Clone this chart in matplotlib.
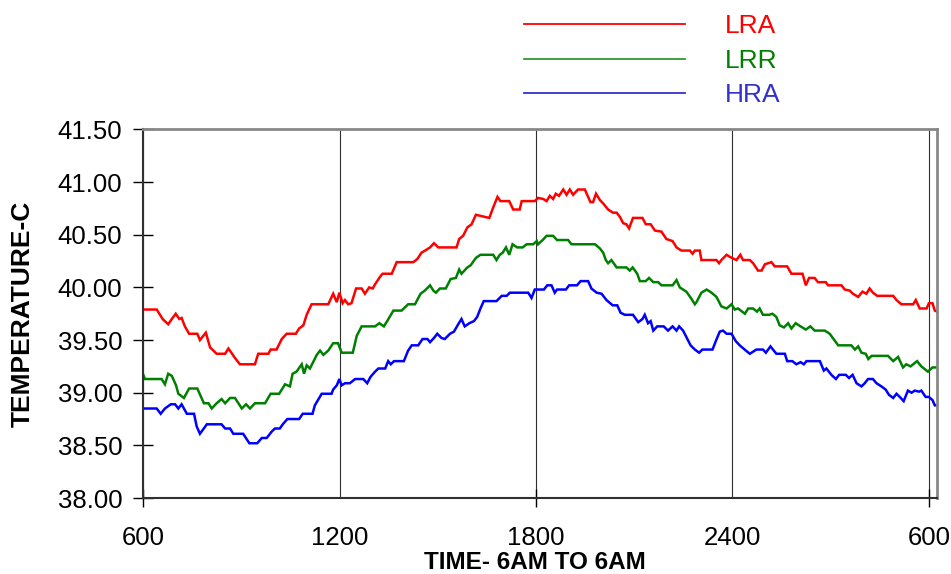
import matplotlib
matplotlib.use("Agg")
import numpy as np
from matplotlib import pyplot as plt
from matplotlib.lines import Line2D
from matplotlib.ticker import FixedLocator, FixedFormatter

plt.rcParams['font.family'] = ['Liberation Sans', 'DejaVu Sans']

# temperature readings, time in hours from midnight (6 -> 30 = 6AM to 6AM)
lra = [(6.00,39.79),(6.41,39.79),(6.59,39.70),(6.76,39.65),(6.87,39.70),(6.99,39.75),(7.10,39.70),(7.17,39.71),
       (7.27,39.63),(7.40,39.56),(7.65,39.56),(7.73,39.50),(7.91,39.57),(8.04,39.43),(8.24,39.37),(8.50,39.37),
       (8.60,39.42),(8.80,39.33),(8.95,39.27),(9.41,39.27),(9.51,39.37),(9.82,39.37),(9.89,39.41),(10.07,39.41),
       (10.23,39.51),(10.38,39.56),(10.66,39.56),(10.76,39.61),(10.89,39.64),(10.99,39.74),(11.14,39.84),(11.65,39.84),
       (11.80,39.94),(11.91,39.86),(11.99,39.95),(12.09,39.85),(12.16,39.88),(12.26,39.84),(12.36,39.85),(12.50,39.99),
       (12.67,39.99),(12.77,39.94),(12.90,40.00),(13.01,39.99),(13.08,40.03),(13.23,40.10),(13.31,40.13),(13.59,40.13),
       (13.74,40.24),(14.25,40.24),(14.37,40.27),(14.50,40.33),(14.66,40.36),(14.76,40.38),(14.88,40.42),(15.01,40.38),
       (15.57,40.38),(15.65,40.46),(15.77,40.49),(15.90,40.57),(16.03,40.60),(16.16,40.69),(16.57,40.66),(16.69,40.76),
       (16.82,40.86),(16.91,40.82),(17.18,40.82),(17.30,40.74),(17.50,40.74),(17.56,40.82),(17.96,40.82),(18.06,40.85),
       (18.22,40.84),(18.32,40.82),(18.42,40.87),(18.52,40.84),(18.60,40.89),(18.70,40.87),(18.83,40.93),(18.93,40.88),
       (19.03,40.93),(19.13,40.88),(19.28,40.93),(19.49,40.93),(19.66,40.81),(19.74,40.81),(19.83,40.89),(19.95,40.83),
       (20.07,40.79),(20.20,40.74),(20.35,40.71),(20.46,40.71),(20.56,40.67),(20.66,40.61),(20.76,40.60),(20.84,40.56),
       (20.96,40.66),(21.25,40.66),(21.35,40.60),(21.50,40.60),(21.63,40.54),(21.83,40.53),(21.98,40.46),(22.17,40.44),
       (22.29,40.38),(22.44,40.35),(22.51,40.35),(22.70,40.35),(22.78,40.32),(22.85,40.35),(23.00,40.35),(23.05,40.26),
       (23.51,40.26),(23.59,40.23),(23.66,40.26),(23.82,40.31),(23.92,40.29),(24.12,40.26),(24.24,40.31),(24.32,40.26),
       (24.53,40.26),(24.63,40.23),(24.78,40.16),(24.89,40.16),(24.99,40.22),(25.19,40.24),(25.29,40.20),(25.67,40.20),
       (25.80,40.13),(26.14,40.13),(26.24,40.02),(26.34,40.09),(26.51,40.09),(26.61,40.05),(26.85,40.05),(26.92,40.02),
       (27.33,40.02),(27.43,39.98),(27.58,39.97),(27.68,39.94),(27.84,39.91),(27.97,39.96),(28.09,39.94),(28.19,39.99),
       (28.29,39.95),(28.42,39.92),(28.91,39.92),(29.01,39.88),(29.16,39.84),(29.52,39.84),(29.60,39.88),(29.72,39.80),
       (29.93,39.80),(30.00,39.85),(30.11,39.85),(30.18,39.78),(30.25,39.77)]

lrr = [(6.00,39.17),(6.05,39.13),(6.56,39.13),(6.66,39.08),(6.76,39.18),(6.87,39.16),(7.00,39.07),(7.07,38.99),
       (7.24,38.95),(7.40,39.04),(7.65,39.04),(7.85,38.90),(7.99,38.90),(8.09,38.85),(8.24,38.90),(8.39,38.94),
       (8.50,38.90),(8.65,38.95),(8.80,38.95),(9.01,38.85),(9.14,38.89),(9.26,38.85),(9.41,38.90),(9.72,38.90),
       (9.89,38.99),(10.15,38.99),(10.33,39.08),(10.48,39.06),(10.56,39.18),(10.68,39.20),(10.84,39.27),(10.91,39.18),
       (10.99,39.26),(11.09,39.23),(11.30,39.36),(11.40,39.40),(11.50,39.36),(11.65,39.40),(11.80,39.47),(11.95,39.47),
       (12.06,39.38),(12.40,39.38),(12.52,39.54),(12.67,39.63),(13.08,39.63),(13.21,39.66),(13.35,39.63),(13.45,39.68),
       (13.64,39.78),(13.89,39.78),(14.09,39.84),(14.30,39.84),(14.47,39.94),(14.60,39.97),(14.76,40.02),(14.86,39.97),
       (14.94,39.95),(15.06,39.99),(15.24,39.99),(15.39,40.08),(15.55,40.09),(15.65,40.17),(15.72,40.13),(15.90,40.19),
       (16.00,40.21),(16.16,40.28),(16.30,40.31),(16.69,40.31),(16.79,40.26),(16.89,40.31),(16.98,40.33),(17.08,40.38),
       (17.18,40.31),(17.28,40.41),(17.42,40.38),(17.59,40.38),(17.71,40.41),(17.91,40.41),(18.02,40.44),(18.06,40.41),
       (18.20,40.45),(18.32,40.49),(18.52,40.49),(18.64,40.45),(18.98,40.45),(19.08,40.41),(19.80,40.41),(19.95,40.37),
       (20.05,40.33),(20.13,40.26),(20.20,40.23),(20.30,40.26),(20.46,40.19),(20.76,40.19),(20.86,40.16),(20.95,40.19),
       (21.09,40.13),(21.17,40.06),(21.35,40.06),(21.45,40.09),(21.58,40.05),(21.73,40.05),(21.83,40.02),(22.17,40.02),
       (22.29,40.07),(22.39,40.00),(22.59,39.96),(22.75,39.89),(22.85,39.84),(22.90,39.86),(23.05,39.95),(23.21,39.98),
       (23.36,39.95),(23.51,39.91),(23.66,39.82),(23.82,39.80),(23.97,39.84),(24.07,39.79),(24.17,39.80),(24.38,39.75),
       (24.48,39.80),(24.63,39.80),(24.75,39.77),(24.83,39.80),(24.93,39.74),(25.12,39.74),(25.22,39.75),(25.34,39.72),
       (25.44,39.64),(25.57,39.62),(25.70,39.66),(25.80,39.61),(25.93,39.66),(26.08,39.63),(26.24,39.60),(26.38,39.63),
       (26.51,39.59),(26.82,39.59),(26.97,39.56),(27.18,39.47),(27.23,39.45),(27.63,39.45),(27.74,39.41),(27.84,39.44),
       (27.94,39.38),(28.07,39.37),(28.15,39.32),(28.25,39.35),(28.75,39.35),(28.91,39.30),(29.06,39.34),(29.21,39.24),
       (29.31,39.27),(29.44,39.25),(29.64,39.30),(29.77,39.25),(29.97,39.20),(30.11,39.24),(30.25,39.24)]

hra = [(6.00,38.85),(6.41,38.85),(6.53,38.80),(6.66,38.85),(6.84,38.89),(6.97,38.89),(7.07,38.85),(7.17,38.89),
       (7.33,38.80),(7.55,38.80),(7.63,38.68),(7.73,38.61),(7.94,38.70),(8.39,38.70),(8.50,38.66),(8.65,38.66),
       (8.75,38.61),(9.05,38.61),(9.24,38.52),(9.48,38.52),(9.62,38.57),(9.77,38.57),(9.92,38.63),(10.02,38.66),
       (10.17,38.66),(10.26,38.70),(10.40,38.75),(10.76,38.75),(10.87,38.80),(11.17,38.80),(11.24,38.88),(11.45,38.99),
       (11.75,38.99),(11.80,39.03),(11.91,39.07),(11.99,39.13),(12.06,39.07),(12.16,39.09),(12.31,39.09),(12.47,39.13),
       (12.72,39.13),(12.84,39.09),(12.94,39.15),(13.08,39.20),(13.18,39.23),(13.39,39.23),(13.48,39.30),(13.56,39.27),
       (13.66,39.30),(13.96,39.30),(14.09,39.40),(14.20,39.45),(14.40,39.45),(14.53,39.51),(14.68,39.51),(14.76,39.48),
       (14.88,39.52),(14.98,39.56),(15.11,39.52),(15.21,39.51),(15.37,39.56),(15.49,39.58),(15.62,39.65),(15.72,39.70),
       (15.82,39.63),(15.96,39.66),(16.10,39.68),(16.20,39.72),(16.30,39.80),(16.40,39.87),(16.79,39.87),(16.95,39.92),
       (17.10,39.92),(17.20,39.95),(17.76,39.95),(17.86,39.90),(17.96,39.98),(18.24,39.98),(18.34,40.02),(18.47,40.02),
       (18.57,39.95),(18.64,39.98),(18.91,39.98),(19.01,40.02),(19.25,40.02),(19.36,40.06),(19.59,40.06),(19.69,39.99),
       (19.85,39.95),(20.00,39.94),(20.15,39.88),(20.34,39.83),(20.48,39.83),(20.58,39.76),(20.71,39.74),(20.96,39.74),
       (21.12,39.67),(21.25,39.70),(21.32,39.74),(21.42,39.66),(21.50,39.68),(21.58,39.59),(21.70,39.63),(21.90,39.63),
       (22.03,39.59),(22.17,39.63),(22.29,39.59),(22.37,39.63),(22.49,39.59),(22.59,39.53),(22.72,39.45),(22.85,39.41),
       (22.98,39.38),(23.08,39.41),(23.39,39.41),(23.49,39.49),(23.61,39.58),(23.71,39.59),(23.82,39.56),(23.97,39.56),
       (24.10,39.49),(24.22,39.45),(24.41,39.40),(24.53,39.37),(24.73,39.41),(24.93,39.41),(25.02,39.38),(25.16,39.44),
       (25.34,39.37),(25.60,39.37),(25.67,39.30),(25.83,39.30),(25.95,39.27),(26.08,39.29),(26.18,39.27),(26.26,39.30),
       (26.67,39.30),(26.79,39.21),(26.87,39.23),(27.02,39.17),(27.16,39.13),(27.26,39.17),(27.46,39.17),(27.56,39.14),
       (27.67,39.17),(27.79,39.09),(27.94,39.06),(28.04,39.09),(28.14,39.13),(28.29,39.13),(28.40,39.09),(28.55,39.06),
       (28.68,39.03),(28.78,38.98),(28.91,38.95),(29.01,38.99),(29.11,38.96),(29.23,38.92),(29.36,39.02),(29.47,39.00),
       (29.57,39.02),(29.70,39.01),(29.77,39.02),(29.90,38.96),(30.00,38.96),(30.11,38.93),(30.18,38.88),(30.25,38.88)]

names = ["LRA", "LRR", "HRA"]
line_colors = ["#ff0000", "#008000", "#0000ff"]
legend_colors = ["#ff0000", "#2e9a2e", "#3333cc"]
major_x = [6, 18, 30]
major_lbl = ["600", "1800", "600"]
minor_x = [12, 24]
minor_lbl = ["1200", "2400"]

fig = plt.figure(figsize=(9.51, 5.74), dpi=100)
ax = fig.add_axes([0.1507, 0.1324, 0.8343, 0.642])

for data, c in zip([lra, lrr, hra], line_colors):
    t, v = zip(*data)
    ax.plot(t, v, color=c, lw=1.8, solid_joinstyle='miter')

ax.set_xlim(6, 30.24)
ax.set_ylim(38, 41.5)
ax.set_yticks(np.arange(38, 41.51, 0.5))
ax.yaxis.set_major_formatter(matplotlib.ticker.FormatStrFormatter('%.2f'))

ax.xaxis.set_major_locator(FixedLocator(major_x))
ax.xaxis.set_major_formatter(FixedFormatter(major_lbl))
ax.xaxis.set_minor_locator(FixedLocator(minor_x))
ax.xaxis.set_minor_formatter(FixedFormatter(minor_lbl))
ax.grid(axis='x', which='both', color='#303030', lw=0.8)

ax.tick_params(axis='y', direction='inout', length=14, width=1, labelsize=18.5, pad=8, colors='black')
ax.tick_params(axis='x', which='major', direction='inout', length=13, width=1, labelsize=18.5, pad=14)
ax.tick_params(axis='x', which='minor', length=0, labelsize=18.5, pad=20.5)

for s in ['left', 'bottom']:
    ax.spines[s].set_color('#303030')
    ax.spines[s].set_linewidth(1.5)
for s in ['top', 'right']:
    ax.spines[s].set_color('#888888')
    ax.spines[s].set_linewidth(2)

ax.set_ylabel("TEMPERATURE-C", fontsize=19, fontweight='bold')
ax.yaxis.set_label_coords(-0.1365, 0.5)
ax.set_xlabel("TIME- 6AM TO 6AM", fontsize=17.5, fontweight='bold')
ax.xaxis.set_label_coords(0.4937, -0.143)

handles = [Line2D([], [], color=c, lw=1.3) for c in legend_colors]
ax.legend(handles, names, loc='upper left', bbox_to_anchor=(511 / 951, 1 - 1 / 574),
          bbox_transform=fig.transFigure, frameon=False, borderpad=0, fontsize=19,
          handlelength=6.1, handletextpad=1.5, labelspacing=0.4,
          labelcolor=["#ff0000", "#008000", "#3333cc"])

fig.savefig("out.png", dpi=100)
